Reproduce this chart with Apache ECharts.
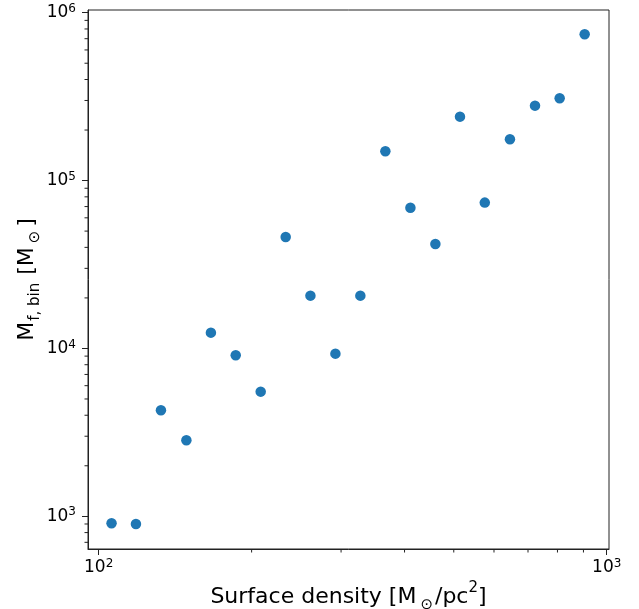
<!DOCTYPE html>
<html>
<head>
<meta charset="utf-8">
<script src="https://cdn.jsdelivr.net/npm/echarts@6/dist/echarts.min.js"></script>
<style>
  html, body { margin: 0; padding: 0; background: #fff; }
  #chart { width: 639px; height: 609px; }
</style>
</head>
<body>
<div id="chart"></div>
<script>
// values
var surfaceDensity = [106, 118.4, 132.6, 148.8, 166.3, 186.1, 208.4, 233.4, 261.1, 292.4,
                      327.4, 366.7, 410.8, 460, 514.3, 575.5, 645, 722.6, 808, 905];
var massBin = [910, 901, 4285, 2839, 12420, 9110, 5530, 46130, 20630, 9310,
               20630, 149400, 68950, 41900, 240300, 73900, 176200, 279400, 309100, 743400];

// ticks
var xMajor = [100, 1000];
var xMinor = [200, 300, 400, 500, 600, 700, 800, 900];
var yMajor = [1e3, 1e4, 1e5, 1e6];
var yMinor = [700, 800, 900,
              2e3, 3e3, 4e3, 5e3, 6e3, 7e3, 8e3, 9e3,
              2e4, 3e4, 4e4, 5e4, 6e4, 7e4, 8e4, 9e4,
              2e5, 3e5, 4e5, 5e5, 6e5, 7e5, 8e5, 9e5];

var xMin = 95.27, xMax = 1010.5;
var yMin = 638.7, yMax = 1.0377e6;

var FONT = 'DejaVu Sans';
var AXIS = '#222';

function powLabel(v) {
    var e = v > 50 ? Math.round(Math.log10(v)) : Math.round(v);
    return '10{sup|' + e + '}';
}

var tickRich = {
    sup: { fontSize: 12, lineHeight: 12, verticalAlign: 'top', fontFamily: FONT, color: '#000' }
};

// small ticks drawn through the axis scales
function minorTicks(axis) {
    return function (params, api) {
        var p = axis === 'x' ? api.coord([api.value(0), yMin]) : api.coord([xMin, api.value(1)]);
        var s = axis === 'x'
            ? { x1: p[0], y1: p[1], x2: p[0], y2: p[1] + 3.5 }
            : { x1: p[0], y1: p[1], x2: p[0] - 3.5, y2: p[1] };
        return { type: 'line', shape: s, style: { stroke: AXIS, lineWidth: 1 } };
    };
}

var chart = echarts.init(document.getElementById('chart'));

var option = {
    animation: false,
    grid: {
        left: 88, right: 30, top: 10, bottom: 60,
        outerBoundsMode: 'none',
        containLabel: false,
        show: true, borderColor: AXIS, borderWidth: 1, backgroundColor: 'transparent'
    },
    xAxis: {
        type: 'log',
        logBase: 10,
        min: xMin,
        max: xMax,
        name: 'Surface density [M{sub|⊙}/pc{sup|2}]',
        nameLocation: 'middle',
        nameGap: 32,
        nameMoveOverlap: false,
        nameTextStyle: {
            fontFamily: FONT, fontSize: 22, color: '#000', lineHeight: 26, verticalAlign: 'top',
            rich: {
                sub: { fontFamily: FONT, fontSize: 15, lineHeight: 32, verticalAlign: 'bottom', color: '#000', padding: [0, 2, 0, 4] },
                sup: { fontFamily: FONT, fontSize: 15, lineHeight: 15, verticalAlign: 'top', color: '#000' }
            }
        },
        axisLine: { show: true, lineStyle: { color: AXIS, width: 1 } },
        axisTick: { show: true, length: 6, lineStyle: { color: AXIS }, customValues: xMajor },
        axisLabel: {
            customValues: xMajor,
            margin: 9,
            formatter: powLabel,
            fontFamily: FONT, fontSize: 17, color: '#000', lineHeight: 20,
            rich: tickRich
        },
        splitLine: { show: false }
    },
    yAxis: {
        type: 'log',
        logBase: 10,
        min: yMin,
        max: yMax,
        name: 'M{sub|f, bin} [M{subo|⊙}]',
        nameLocation: 'middle',
        nameGap: 45,
        nameMoveOverlap: false,
        nameTextStyle: {
            fontFamily: FONT, fontSize: 22, color: '#000', lineHeight: 26,
            rich: {
                sub: { fontFamily: FONT, fontSize: 15, lineHeight: 32, verticalAlign: 'bottom', color: '#000', padding: [0, 1, 0, 1] },
                subo: { fontFamily: FONT, fontSize: 15, lineHeight: 32, verticalAlign: 'bottom', color: '#000', padding: [0, 4, 0, 4] }
            }
        },
        axisLine: { show: true, lineStyle: { color: AXIS, width: 1 } },
        axisTick: { show: true, length: 6, lineStyle: { color: AXIS }, customValues: yMajor },
        axisLabel: {
            customValues: yMajor,
            margin: 12,
            formatter: powLabel,
            fontFamily: FONT, fontSize: 17, color: '#000', lineHeight: 20,
            rich: tickRich
        },
        splitLine: { show: false }
    },
    series: [
        {
            type: 'scatter',
            data: surfaceDensity.map(function (x, i) { return [x, massBin[i]]; }),
            symbol: 'circle',
            symbolSize: 10.5,
            itemStyle: { color: '#1f77b4', opacity: 1 },
            z: 3
        },
        {
            type: 'custom',
            data: xMinor.map(function (v) { return [v, yMin]; }),
            renderItem: minorTicks('x'),
            clip: false,
            silent: true
        },
        {
            type: 'custom',
            data: yMinor.map(function (v) { return [xMin, v]; }),
            renderItem: minorTicks('y'),
            clip: false,
            silent: true
        }
    ]
};

chart.setOption(option);
</script>
</body>
</html>
